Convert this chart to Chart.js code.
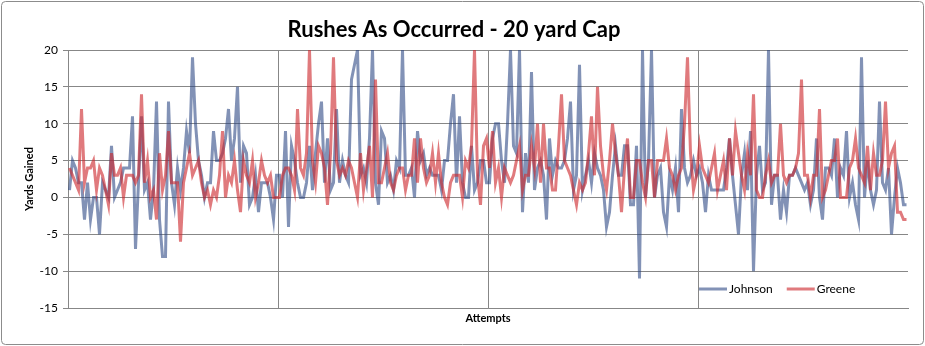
<!DOCTYPE html>
<html><head><meta charset="utf-8">
<script src="https://cdn.jsdelivr.net/npm/chart.js@4"></script>
<style>html,body{margin:0;padding:0;background:#fff;}#wrap{position:relative;width:925px;height:346px;}</style>
</head><body><div id="wrap"><canvas id="c" width="925" height="346"></canvas></div>
<script>
const seriesNames = ['Johnson', 'Greene'];
const johnson = [
1,5,4,2,2,-3,2,-3,0,0,
-5,2,1,0,7,0,1,2,4,4,
4,11,-7,2,11,1,2,-3,1,13,
-3,-8,-8,13,2,-1,4,1,4,9,
6,19,10,5,3,0,2,2,9,5,
5,6,8,12,5,8,15,2,7,6,
-1,0,3,-2,2,2,2,0,-3,3,
3,0,9,-4,7,5,2,0,0,2,
7,1,6,10,13,2,8,1,2,12,
2,5,3,2,16,18,20,3,4,2,
8,20,2,-1,9,8,2,3,1,5,
4,20,3,3,4,0,9,5,6,3,
4,3,3,3,1,5,5,10,14,2,
11,2,0,0,7,1,2,5,5,2,
2,8,10,10,5,2,10,20,7,6,
20,-2,6,2,17,1,4,5,3,-3,
8,3,5,4,4,5,8,13,1,3,
18,1,3,5,2,6,4,3,1,-4,
-2,3,7,3,3,7,7,-1,-1,7,
-11,20,0,5,20,0,3,4,-2,-4,
3,1,4,-2,12,4,2,3,5,3,
4,2,-2,3,1,1,1,1,1,4,
8,3,-1,-5,3,6,1,9,-10,3,
7,1,2,20,-1,3,3,-3,1,-2,
3,3,4,3,2,1,2,-1,1,8,
0,-3,4,4,3,8,0,4,3,9,
0,2,-1,-3,19,0,5,1,-1,1,
13,2,1,4,-5,0,4,2,-1,-1
];
const greene = [
4,3,2,1,12,2,4,4,5,1,
4,3,1,-1,6,3,3,4,0,3,
3,3,2,3,14,2,5,0,1,-3,
6,1,3,9,2,2,2,-6,2,4,
6,3,4,5,2,0,1,-1,1,0,
3,9,0,3,2,5,1,-2,5,3,
2,5,0,2,5,3,2,3,0,0,
0,3,4,4,3,1,12,4,3,6,
20,5,2,7,6,4,-1,6,19,5,
3,4,3,5,4,2,0,6,1,4,
7,0,16,2,2,4,6,2,1,3,
4,4,1,3,3,8,2,8,4,2,
3,6,2,6,2,0,-1,2,3,3,
3,0,5,4,7,20,3,-1,7,8,
4,9,2,4,0,4,3,2,3,5,
7,1,3,3,7,4,10,2,10,4,
4,1,1,7,14,5,4,3,1,-1,
2,1,2,6,11,3,15,7,3,1,
5,10,6,3,-2,4,8,0,0,5,
5,2,0,5,5,0,5,5,5,8,
4,3,1,3,4,10,19,6,1,3,
7,4,3,2,4,6,1,3,5,1,
8,3,9,6,3,1,6,3,14,1,
0,0,3,5,2,3,3,10,3,2,
3,3,4,6,16,3,3,0,3,3,
12,0,1,3,5,5,8,0,0,0,
4,5,8,4,3,2,7,1,6,3,
3,5,13,4,6,7,-2,-2,-3,-3
];
const attempts = johnson.map((_, i) => String(i + 1));
const yTicks = [-15, -10, -5, 0, 5, 10, 15, 20];
const gridEvery = 70;

const FONT = 'Lato, "Open Sans", sans-serif';
const GRID = '#878787';

const frame = {
  id: 'frame',
  beforeDraw(chart) {
    const c = chart.ctx;
    c.save();
    c.fillStyle = '#fff';
    c.fillRect(0, 0, chart.width, chart.height);
    c.strokeStyle = '#8c8c8c';
    c.lineWidth = 1;
    c.beginPath();
    if (c.roundRect) c.roundRect(1.5, 1.5, chart.width - 3, chart.height - 3, 4); else c.rect(1.5, 1.5, chart.width - 3, chart.height - 3);
    c.stroke();
    c.restore();
  }
};

const inlineLegend = {
  id: 'inlineLegend',
  afterDraw(chart) {
    const c = chart.ctx;
    const a = chart.chartArea;
    c.save();
    c.font = '12px ' + FONT;
    c.textBaseline = 'middle';
    c.fillStyle = '#000';
    let x = a.right - 209;
    const y = a.bottom - 19;
    chart.data.datasets.forEach(ds => {
      c.strokeStyle = ds.borderColor;
      c.lineWidth = 3;
      c.beginPath();
      c.moveTo(x, y);
      c.lineTo(x + 28, y);
      c.stroke();
      c.fillText(ds.label, x + 30, y + 0.5);
      x += 30 + c.measureText(ds.label).width + 14;
    });
    c.restore();
  }
};

new Chart(document.getElementById('c'), {
  type: 'line',
  data: {
    labels: attempts,
    datasets: [
      { label: seriesNames[0], data: johnson, borderColor: 'rgba(40,68,130,0.58)', borderWidth: 3, pointRadius: 0, tension: 0, fill: false, order: 1 },
      { label: seriesNames[1], data: greene, borderColor: 'rgba(205,40,45,0.62)', borderWidth: 3, pointRadius: 0, tension: 0, fill: false, order: 0 }
    ]
  },
  options: {
    responsive: false,
    animation: false,
    devicePixelRatio: 1,
    layout: { padding: { top: 8, right: 17, left: 0, bottom: 0 } },
    plugins: {
      legend: { display: false },
      tooltip: { enabled: false },
      title: { display: true, text: 'Rushes As Occurred - 20 yard Cap', color: '#000', font: { family: FONT, size: 22, weight: 'bold' }, padding: { top: 9, bottom: 6.6 } }
    },
    scales: {
      x: {
        type: 'category',
        offset: true,
        ticks: { display: false },
        grid: {
          offset: true,
          drawTicks: false,
          color: (ctx) => (ctx.index % gridEvery === 0 ? GRID : 'rgba(0,0,0,0)'),
          lineWidth: 1
        },
        border: { display: true, color: GRID },
        title: { display: true, text: 'Attempts', color: '#000', font: { family: FONT, size: 11, weight: 'bold' }, padding: { top: 0, bottom: 21.4 } },
        afterFit(s) { s.height = 38; }
      },
      y: {
        min: yTicks[0],
        max: yTicks[yTicks.length - 1],
        afterBuildTicks(s) { s.ticks = yTicks.map(v => ({ value: v })); },
        ticks: { color: '#000', font: { family: FONT, size: 12 }, padding: 5 },
        grid: { color: GRID, lineWidth: 1, tickLength: 5, drawTicks: true },
        border: { display: true, color: GRID },
        title: { display: true, text: 'Yards Gained', color: '#000', font: { family: FONT, size: 11, weight: 'bold' }, padding: { top: 23, bottom: 0 } },
        afterFit(s) { s.width = 68; }
      }
    }
  },
  plugins: [frame, inlineLegend]
});
</script></body></html>
